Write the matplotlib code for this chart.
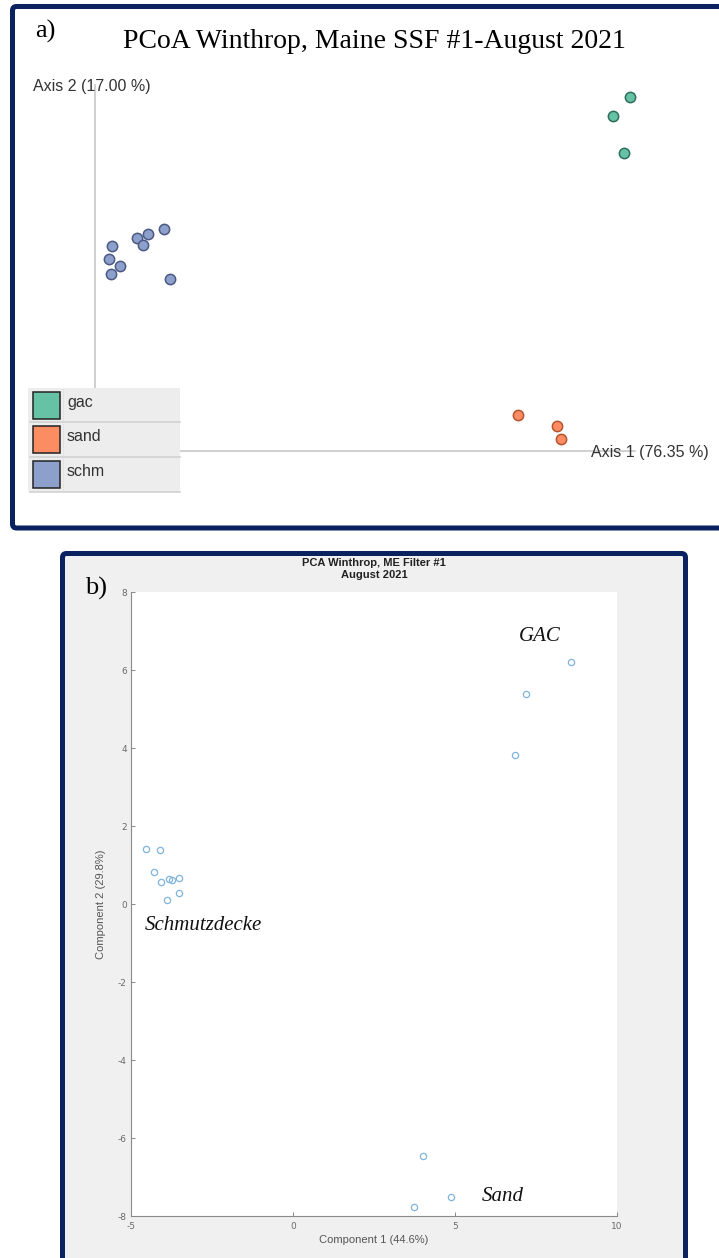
"""
Two-panel ordination figure for Winthrop, Maine SSF #1 (August 2021).

a) PCoA scatter in the Emperor style (axis lines, colour legend box)
b) PCA scatter in the MATLAB style (open circles, annotated groups)
"""

import matplotlib

matplotlib.use("Agg")
import matplotlib.pyplot as plt
from matplotlib.patches import FancyBboxPatch, Rectangle

W, H = 719, 1258
DPI = 100

NAVY = "#0b2260"
SERIF = "Liberation Serif"
SANS = "Liberation Sans"

# Panel a - PCoA coordinates (arbitrary units)
PCOA_GROUPS = ["gac", "sand", "schm"]
PCOA_FILL = {"gac": "#66c2a5", "sand": "#fc8d62", "schm": "#8da0cb"}
PCOA_EDGE = {"gac": "#2f6e5c", "sand": "#b5552f", "schm": "#4b5a85"}

GAC_PC1 = [0.443, 0.417, 0.434]
GAC_PC2 = [0.274, 0.246, 0.191]
SAND_PC1 = [0.277, 0.334, 0.340]
SAND_PC2 = [-0.197, -0.213, -0.232]
SCHM_PC1 = [-0.325, -0.329, -0.313, -0.326, -0.288, -0.279, -0.271, -0.248, -0.239]
SCHM_PC2 = [0.054, 0.034, 0.024, 0.012, 0.066, 0.055, 0.071, 0.079, 0.005]

PCOA_AXIS1 = "Axis 1 (76.35 %)"
PCOA_AXIS2 = "Axis 2 (17.00 %)"

# Panel b - PCA scores
PCA_GAC_X = [8.58, 7.19, 6.85]
PCA_GAC_Y = [6.20, 5.38, 3.82]
PCA_SAND_X = [4.02, 4.87, 3.73]
PCA_SAND_Y = [-6.46, -7.52, -7.76]
PCA_SCHM_X = [-4.54, -4.10, -4.28, -4.06, -3.82, -3.74, -3.51, -3.53, -3.88]
PCA_SCHM_Y = [1.42, 1.38, 0.82, 0.57, 0.64, 0.61, 0.67, 0.29, 0.10]

PCA_XTICKS = [-5, 0, 5, 10]
PCA_YTICKS = [-8, -6, -4, -2, 0, 2, 4, 6, 8]


def px_rect(left, top, right, bottom):
    """Pixel box (y down) -> figure fraction [l, b, w, h]."""
    return [left / W, 1 - bottom / H, (right - left) / W, (bottom - top) / H]


def pixel_axes(fig, zorder):
    """Full-figure axes in pixel units, y pointing down."""
    ax = fig.add_axes([0, 0, 1, 1], zorder=zorder)
    ax.set_xlim(0, W)
    ax.set_ylim(H, 0)
    ax.axis("off")
    ax.patch.set_alpha(0)
    return ax


def draw_frames(bg):
    # panel a frame runs off the right edge
    bg.add_patch(FancyBboxPatch((12.5, 6.5), 740, 521.5,
                                boxstyle="round,pad=0,rounding_size=4",
                                lw=3.6, ec=NAVY, fc="white"))
    # panel b frame runs off the bottom edge
    bg.add_patch(FancyBboxPatch((62.5, 553.5), 623, 740,
                                boxstyle="round,pad=0,rounding_size=4",
                                lw=3.6, ec=NAVY, fc="#f0f0f0"))


def draw_pcoa(fig, ov):
    ax = fig.add_axes(px_rect(95, 85, 635, 451), zorder=1)
    ax.set_xlim(-0.35, 0.45)
    ax.set_ylim(-0.25, 0.292)
    ax.patch.set_alpha(0)
    for side in ["top", "right"]:
        ax.spines[side].set_visible(False)
    for side in ["left", "bottom"]:
        ax.spines[side].set_color("#c4c4c4")
        ax.spines[side].set_linewidth(1.1)
    ax.set_xticks([])
    ax.set_yticks([])

    series = {
        "gac": (GAC_PC1, GAC_PC2),
        "sand": (SAND_PC1, SAND_PC2),
        "schm": (SCHM_PC1, SCHM_PC2),
    }
    for grp in PCOA_GROUPS:
        xs, ys = series[grp]
        ax.scatter(xs, ys, s=55, c=PCOA_FILL[grp], edgecolors=PCOA_EDGE[grp],
                   linewidths=1.1, clip_on=False, zorder=3)

    # texts
    ov.text(35, 31, "a)", fontsize=19, family=SERIF, va="center", ha="left")
    ov.text(374, 41, "PCoA Winthrop, Maine SSF #1-August 2021", fontsize=20,
            family=SERIF, va="center", ha="center")
    ov.text(33, 87, PCOA_AXIS2, fontsize=11.5, family=SANS, color="#333333",
            va="center", ha="left")
    ov.text(591, 452, PCOA_AXIS1, fontsize=11.5, family=SANS, color="#333333",
            va="center", ha="left")

    # legend box (Emperor colour table)
    row_h = 34.7
    top = 388
    ov.add_patch(Rectangle((28, top), 152, row_h * len(PCOA_GROUPS),
                           fc="#ededed", ec="none", zorder=2))
    for i, grp in enumerate(PCOA_GROUPS):
        y0 = top + i * row_h
        ov.add_patch(Rectangle((33, y0 + 3.5), 27, 27, fc=PCOA_FILL[grp],
                               ec="#222222", lw=1.1, zorder=3))
        ov.plot([63, 63], [y0 + 1, y0 + row_h - 1], color="#d0d0d0", lw=0.6,
                ls=":", zorder=3)
        ov.plot([30, 180], [y0 + row_h - 0.5, y0 + row_h - 0.5],
                color="#d2d2d2", lw=1.2, zorder=3)
        ov.text(67, y0 + 14, grp, fontsize=11.5, family=SANS, color="#333333",
                va="center", ha="left", zorder=4)


def draw_pca(fig, ov):
    ax = fig.add_axes(px_rect(131, 592, 617, 1216), zorder=1)
    ax.set_facecolor("white")
    ax.set_xlim(-5, 10)
    ax.set_ylim(-8, 8)
    ax.set_xticks(PCA_XTICKS)
    ax.set_yticks(PCA_YTICKS)
    for side in ["top", "right"]:
        ax.spines[side].set_visible(False)
    for side in ["left", "bottom"]:
        ax.spines[side].set_color("#8a8a8a")
        ax.spines[side].set_linewidth(0.8)
    ax.tick_params(direction="in", length=3, width=0.7, color="#8a8a8a",
                   labelsize=6.5, labelcolor="#6a6a6a")
    ax.tick_params(axis="x", pad=4.5)
    ax.tick_params(axis="y", pad=3)

    for xs, ys in [(PCA_GAC_X, PCA_GAC_Y), (PCA_SAND_X, PCA_SAND_Y),
                   (PCA_SCHM_X, PCA_SCHM_Y)]:
        ax.plot(xs, ys, "o", ms=4.5, mfc="none", mec="#7fb5de", mew=0.9)

    ax.set_title("PCA Winthrop, ME Filter #1\nAugust 2021", fontsize=8,
                 fontweight="bold", family=SANS, color="#222222", pad=10,
                 linespacing=1.25)
    ax.set_xlabel("Component 1 (44.6%)", fontsize=8, family=SANS,
                  color="#555555")
    ax.set_ylabel("Component 2 (29.8%)", fontsize=8, family=SANS,
                  color="#555555")
    ax.xaxis.set_label_coords(0.5, -0.031)
    ax.yaxis.set_label_coords(-0.051, 0.5)

    note = dict(fontsize=15, family=SERIF, style="italic", va="center",
                ha="left", color="#111111")
    ax.text(6.98, 6.87, "GAC", **note)
    ax.text(-4.57, -0.55, "Schmutzdecke", **note)
    ax.text(5.83, -7.51, "Sand", **note)

    ov.text(85, 588, "b)", fontsize=19, family=SERIF, va="center", ha="left")


def main():
    plt.rcParams["axes.unicode_minus"] = False
    fig = plt.figure(figsize=(W / DPI, H / DPI), dpi=DPI)
    fig.patch.set_facecolor("white")

    bg = pixel_axes(fig, zorder=0)
    draw_frames(bg)
    ov = pixel_axes(fig, zorder=3)

    draw_pcoa(fig, ov)
    draw_pca(fig, ov)

    fig.savefig("out.png", dpi=DPI)


if __name__ == "__main__":
    main()
